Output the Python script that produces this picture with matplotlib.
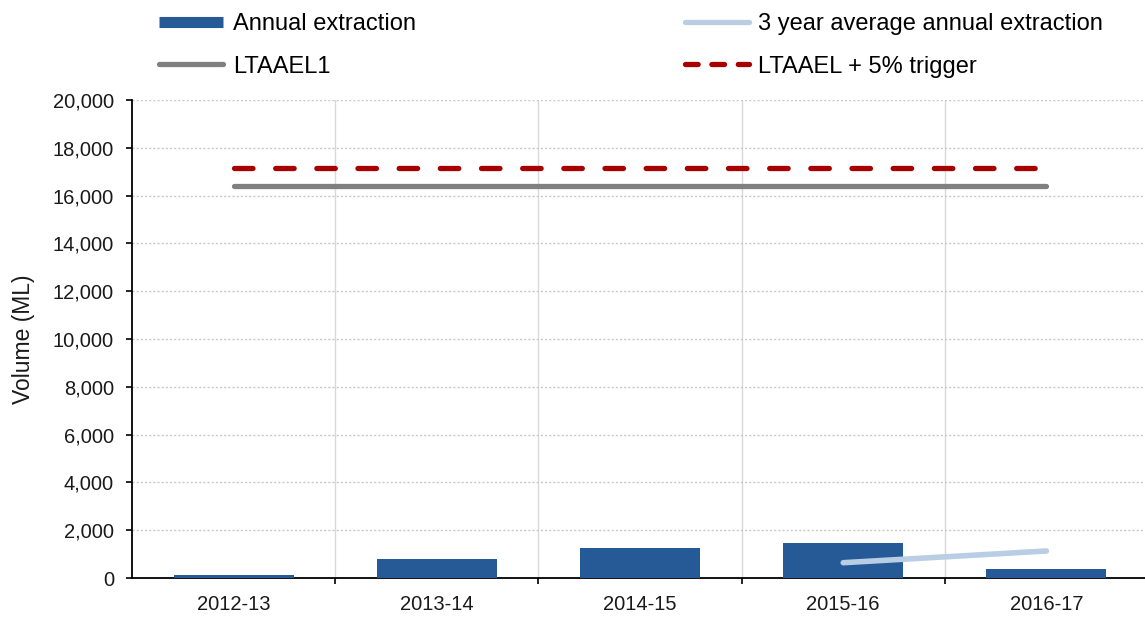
import numpy as np
import matplotlib
matplotlib.use("Agg")
import matplotlib.pyplot as plt
from matplotlib.lines import Line2D

plt.rcParams['font.family'] = ['Liberation Sans', 'DejaVu Sans']

years = ["2012-13", "2013-14", "2014-15", "2015-16", "2016-17"]
annual = [110, 780, 1270, 1450, 365]
avg3 = [np.nan, np.nan, np.nan, 640, 1130]
ltaael = [16400, 16400, 16400, 16400, 16400]
trigger = [17150, 17150, 17150, 17150, 17150]

bar_col = "#265A97"
avg_col = "#B9CDE5"
lt_col = "#808080"
trig_col = "#A80000"

fig = plt.figure(figsize=(11.45, 6.17), dpi=100)
ax = fig.add_axes([132 / 1145, 1 - 578 / 617, 1016 / 1145, 478 / 617])

x = np.arange(len(years))
ax.bar(x, annual, width=0.59, color=bar_col, zorder=3)
ax.plot(x, ltaael, color=lt_col, lw=3.8, solid_capstyle="round", zorder=4)
ax.plot(x, trigger, color=trig_col, lw=3.8, dashes=(3.5, 4.3),
        dash_capstyle="round", zorder=4)
ax.plot(x, avg3, color=avg_col, lw=4.0, solid_capstyle="round", zorder=5)

ax.set_xlim(-0.5, len(years) - 0.5)
ax.set_ylim(0, 20000)
ax.set_yticks(range(0, 20001, 2000))
ax.set_yticklabels(["{:,}".format(v) for v in range(0, 20001, 2000)])
ax.set_xticks(x)
ax.set_xticklabels(years)
ax.set_xticks(np.arange(0.5, len(years) - 0.5, 1), minor=True)

ax.tick_params(axis="x", which="major", length=0, pad=12, labelsize=14.5)
ax.tick_params(axis="x", which="minor", length=4, width=1.2, direction="out", color="black")
ax.tick_params(axis="y", which="major", length=4, width=1.2, pad=9, labelsize=14.5)
ax.tick_params(axis="both", colors="black", labelcolor="#1a1a1a")

ax.grid(axis="y", which="major", color="#C8C8C8", linestyle=(0, (1.5, 1.5)), lw=1.0, zorder=0)
ax.grid(axis="x", which="minor", color="#D9D9D9", linestyle="-", lw=1.0, zorder=0)

for s in ["top", "right"]:
    ax.spines[s].set_visible(False)
for s in ["left", "bottom"]:
    ax.spines[s].set_linewidth(1.3)
    ax.spines[s].set_color("black")

ax.set_ylabel("Volume (ML)", fontsize=16.5, color="#1a1a1a")
ax.yaxis.set_label_coords(-0.095, 0.5)

handles = [
    Line2D([], [], color=bar_col, lw=8, solid_capstyle="butt"),
    Line2D([], [], color=lt_col, lw=3.8, solid_capstyle="round"),
    Line2D([], [], color=avg_col, lw=3.8, solid_capstyle="round"),
    Line2D([], [], color=trig_col, lw=3.8, dashes=(2.4, 2.6), dash_capstyle="round"),
]
labels = ["Annual extraction", "LTAAEL1", "3 year average annual extraction",
          "LTAAEL + 5% trigger"]
fig.legend(handles, labels, ncol=2, loc="upper left",
           bbox_to_anchor=(146 / 1145, 1.0), frameon=False, fontsize=17,
           handlelength=2.7, handletextpad=0.4, columnspacing=11.4,
           labelspacing=0.85, borderaxespad=0.17)

fig.savefig("out.png", dpi=100)
